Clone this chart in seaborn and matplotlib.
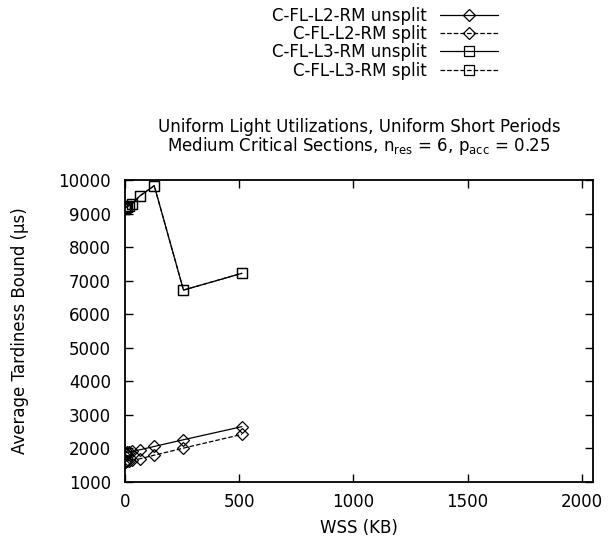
import numpy as np
import pandas as pd
import seaborn as sns
import matplotlib
matplotlib.use("Agg")
import matplotlib.pyplot as plt

sns.set_style("ticks", {"axes.edgecolor": "black", "text.color": "black",
                        "axes.labelcolor": "black", "xtick.color": "black",
                        "ytick.color": "black"})
plt.rcParams["font.family"] = ["DejaVu Sans"]

# WSS in KB
wss = [1, 2, 4, 8, 16, 32, 64, 128, 256, 512]

l2_unsplit = [1850, 1860, 1870, 1880, 1890, 1910, 1960, 2060, 2260, 2650]
l2_split = [1600, 1610, 1620, 1630, 1640, 1660, 1690, 1800, 2010, 2420]
l3_unsplit = [9150, 9170, 9190, 9210, 9230, 9300, 9520, 9830, 6720, 7220]
l3_split = [9150, 9170, 9190, 9210, 9230, 9300, 9520, 9830, 6720, 7220]

labels = ["C-FL-L2-RM unsplit", "C-FL-L2-RM split",
          "C-FL-L3-RM unsplit", "C-FL-L3-RM split"]
series = [l2_unsplit, l2_split, l3_unsplit, l3_split]
markers = ["D", "D", "s", "s"]
styles = ["-", "--", "-", "--"]
msizes = [6, 6, 7, 7]

fig = plt.figure(figsize=(6.08, 5.5), dpi=100)
ax = fig.add_axes([0.2056, 0.1236, 0.7694, 0.5491])

for lab, vals, mk, ls, ms in zip(labels, series, markers, styles, msizes):
    df = pd.DataFrame({"wss": wss, "tard": vals})
    sns.lineplot(data=df, x="wss", y="tard", ax=ax, label=lab, color="black",
                 marker=mk, markersize=ms, markerfacecolor="none",
                 markeredgecolor="black", markeredgewidth=0.9,
                 linewidth=0.9, linestyle=ls)

ax.set_xlim(0, 2048)
ax.set_ylim(1000, 10000)
ax.set_xticks([0, 500, 1000, 1500, 2000])
ax.set_yticks(np.arange(1000, 10001, 1000))
ax.tick_params(direction="in", top=True, right=True, labelsize=12, length=6,
               width=1, colors="black")
ax.tick_params(axis="y", pad=10)
ax.tick_params(axis="x", pad=8)
for sp in ax.spines.values():
    sp.set_linewidth(1.3)
    sp.set_color("black")
    sp.set_visible(True)

ax.set_xlabel("WSS (KB)", fontsize=12, labelpad=6, color="black")
ax.set_ylabel("Average Tardiness Bound (\u00b5s)", fontsize=12, labelpad=21,
              color="black")

# two-line title, tight gnuplot-like spacing
fig.text(0.5905, 1 - 118 / 550,
         "Uniform Light Utilizations, Uniform Short Periods\n"
         "Medium Critical Sections, $\\mathregular{n_{res}}$ = 6, "
         "$\\mathregular{p_{acc}}$ = 0.25",
         ha="center", va="top", ma="center", fontsize=12, linespacing=0.95,
         color="black")

leg = ax.legend(loc="upper right", bbox_to_anchor=(0.819, 0.988),
                bbox_transform=fig.transFigure,
                frameon=False, markerfirst=False, fontsize=12,
                handlelength=3.5, labelspacing=0.02, handletextpad=0.75,
                borderaxespad=0, borderpad=0, labelcolor="black")

fig.savefig("out.png", dpi=100)
